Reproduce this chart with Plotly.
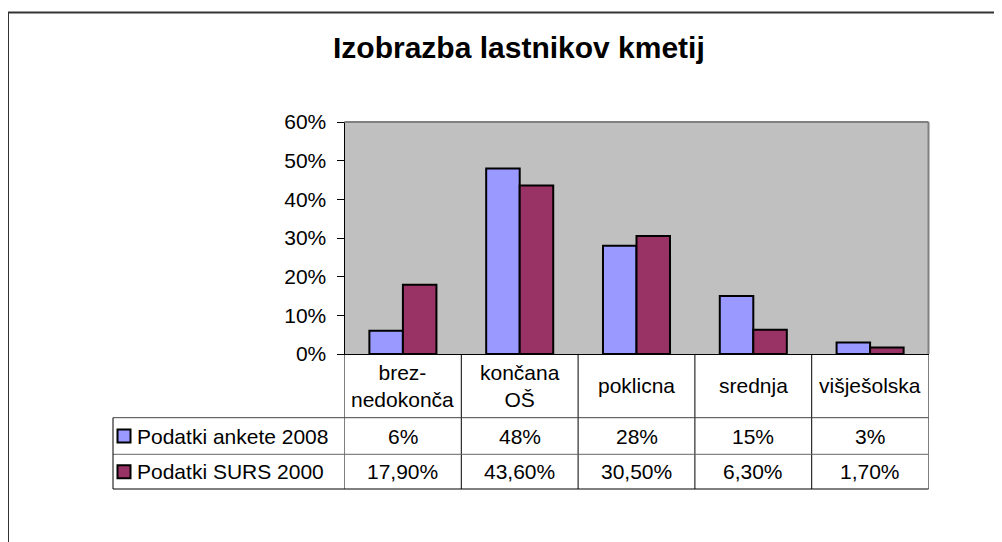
import plotly.graph_objects as go

# ---- data ----
categories = ["brez-<br>nedokonča", "končana<br>OŠ", "poklicna", "srednja", "višješolska"]
series_names = ["Podatki ankete 2008", "Podatki SURS 2000"]
anketa_2008 = [0.06, 0.48, 0.28, 0.15, 0.03]
surs_2000 = [0.179, 0.436, 0.305, 0.063, 0.017]
y_ticks = [0, 0.1, 0.2, 0.3, 0.4, 0.5, 0.6]
title_text = "Izobrazba lastnikov kmetij"

colors = ["#9999FF", "#993366"]
FONT = "Liberation Sans, Arial, sans-serif"
W, H = 1002, 542
OX, OY = 8, 8  # page offset of the figure div


def px(x):
    return (x - OX) / W


def py(y):
    return 1 - (y - OY) / H


plot_l, plot_r, plot_t, plot_b = 344.5, 928.5, 122, 354
row_hdr_b, row1_b, row2_b = 417.7, 454.3, 489
legend_l = 113
FS = 21

fig = go.Figure()
idx = list(range(len(categories)))
for name, vals, col in zip(series_names, [anketa_2008, surs_2000], colors):
    fig.add_trace(go.Bar(
        x=idx, y=vals, name=name,
        marker=dict(color=col, line=dict(color="black", width=2)),
        showlegend=False,
    ))

shapes = []
# outer chart border
shapes.append(dict(type="rect", xref="paper", yref="paper",
                   x0=px(8), x1=1.2, y0=-0.2, y1=py(12.5),
                   line=dict(color="#333333", width=2), layer="below"))
# plot area top/right border (gray)
shapes.append(dict(type="line", xref="paper", yref="paper",
                   x0=px(plot_l), x1=px(plot_r), y0=py(plot_t), y1=py(plot_t),
                   line=dict(color="#808080", width=2)))
shapes.append(dict(type="line", xref="paper", yref="paper",
                   x0=px(plot_r), x1=px(plot_r), y0=py(plot_t), y1=py(plot_b),
                   line=dict(color="#808080", width=2)))
# table vertical lines at category boundaries
for i in range(len(categories) + 1):
    b = i - 0.5
    shapes.append(dict(type="line", xref="x", yref="paper",
                       x0=b, x1=b, y0=py(row2_b), y1=py(plot_b),
                       line=dict(color="black", width=1)))
# table horizontal lines
for yy, col in [(row_hdr_b, "#444444"), (row1_b, "#666666"), (row2_b, "black")]:
    shapes.append(dict(type="line", xref="paper", yref="paper",
                       x0=px(legend_l), x1=px(plot_r), y0=py(yy), y1=py(yy),
                       line=dict(color=col, width=1)))
shapes.append(dict(type="line", xref="paper", yref="paper",
                   x0=px(legend_l), x1=px(legend_l), y0=py(row2_b), y1=py(row_hdr_b),
                   line=dict(color="black", width=1)))

annotations = []
# title
annotations.append(dict(text="<b>" + title_text + "</b>", xref="paper", yref="paper",
                        x=px(519), y=py(47), showarrow=False,
                        font=dict(family=FONT, size=30, color="black"),
                        xanchor="center", yanchor="middle"))
# category labels in header row
hdr_c = (plot_b + row_hdr_b) / 2
for i, c in enumerate(categories):
    annotations.append(dict(text=c, xref="x", yref="paper", x=i, y=py(hdr_c),
                            showarrow=False, font=dict(family=FONT, size=FS, color="black"),
                            xanchor="center", yanchor="middle", align="center"))

# rows
row_centers = [(row_hdr_b + row1_b) / 2, (row1_b + row2_b) / 2]
fmt = [lambda v: f"{v*100:.0f}%", lambda v: f"{v*100:.2f}%".replace(".", ",")]
for r, (name, vals, col) in enumerate(zip(series_names, [anketa_2008, surs_2000], colors)):
    yc = row_centers[r]
    shapes.append(dict(type="rect", xref="paper", yref="paper",
                       x0=px(117.5), x1=px(130.5), y0=py(yc + 6.5), y1=py(yc - 6.5),
                       fillcolor=col, line=dict(color="black", width=2)))
    annotations.append(dict(text=name, xref="paper", yref="paper", x=px(135), y=py(yc),
                            showarrow=False, font=dict(family=FONT, size=FS, color="black"),
                            xanchor="left", yanchor="middle"))
    for i, v in enumerate(vals):
        annotations.append(dict(text=fmt[r](v), xref="x", yref="paper", x=i, y=py(yc),
                                showarrow=False, font=dict(family=FONT, size=FS, color="black"),
                                xanchor="center", yanchor="middle"))

fig.update_layout(
    template="none",
    width=W, height=H, autosize=False,
    margin=dict(l=0, r=0, t=0, b=0, pad=0, autoexpand=False),
    paper_bgcolor="white",
    plot_bgcolor="#C0C0C0",
    barmode="group", bargap=0.426, bargroupgap=0,
    font=dict(family=FONT, size=FS, color="black"),
    shapes=shapes, annotations=annotations,
    xaxis=dict(domain=[px(plot_l), px(plot_r)], range=[-0.5, 4.5], automargin=False,
               showticklabels=False, ticks="", showgrid=False, zeroline=False,
               showline=True, linecolor="black", linewidth=1, fixedrange=True),
    yaxis=dict(domain=[py(plot_b), py(plot_t)], range=[0, 0.6], automargin=False,
               tickvals=y_ticks, tickformat=".0%", ticks="outside", ticklen=7,
               tickcolor="black", tickwidth=1, showgrid=False, zeroline=False,
               showline=True, linecolor="black", linewidth=1,
               tickfont=dict(family=FONT, size=FS, color="black"),
               ticklabelstandoff=6, fixedrange=True),
)

fig.write_html("out.html")
